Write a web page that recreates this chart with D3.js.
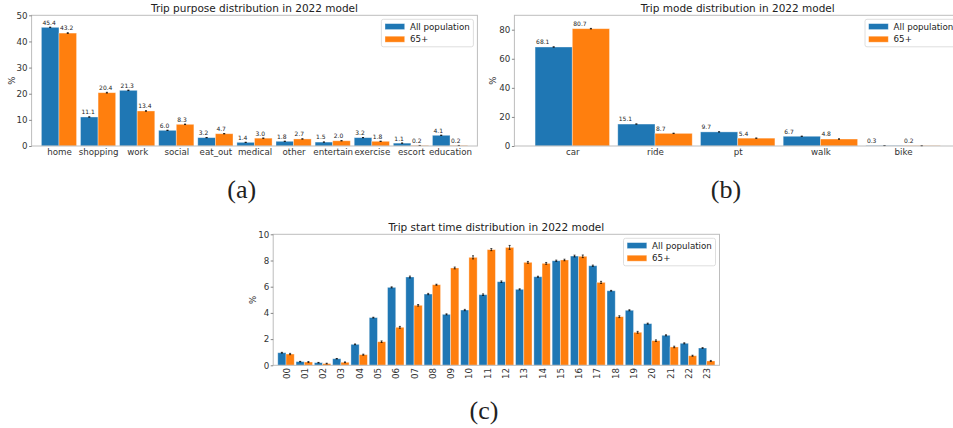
<!DOCTYPE html>
<html>
<head>
<meta charset="utf-8">
<script src="https://cdn.jsdelivr.net/npm/d3@7"></script>
<style>
  html, body { margin: 0; padding: 0; background: #fff; }
  svg { display: block; }
  text { font-family: "DejaVu Sans", sans-serif; }
  text.caption { font-family: "Liberation Serif", "DejaVu Serif", serif; }
</style>
</head>
<body>
<svg id="chart" width="953" height="428"></svg>
<script>
// ---- data ----
const purposeCats = ["home","shopping","work","social","eat_out","medical","other","entertain","exercise","escort","education"];
const purposeAll  = [45.4, 11.1, 21.3, 6.0, 3.2, 1.4, 1.8, 1.5, 3.2, 1.1, 4.1];
const purpose65   = [43.2, 20.4, 13.4, 8.3, 4.7, 3.0, 2.7, 2.0, 1.8, 0.2, 0.2];
const purposeAllErr = [0.10, 0.08, 0.10, 0.06, 0.05, 0.04, 0.05, 0.04, 0.05, 0.04, 0.08];
const purpose65Err  = [0.15, 0.15, 0.12, 0.10, 0.08, 0.06, 0.06, 0.05, 0.05, 0.02, 0.02];

const modeCats = ["car","ride","pt","walk","bike"];
const modeAll  = [68.1, 15.1, 9.7, 6.7, 0.3];
const mode65   = [80.7, 8.7, 5.4, 4.8, 0.2];
const modeAllErr = [0.15, 0.10, 0.08, 0.06, 0.02];
const mode65Err  = [0.20, 0.15, 0.10, 0.10, 0.02];

const hourCats = ["00","01","02","03","04","05","06","07","08","09","10","11","12","13","14","15","16","17","18","19","20","21","22","23"];
const startAll = [0.96, 0.28, 0.20, 0.50, 1.60, 3.64, 5.95, 6.74, 5.44, 3.89, 4.22, 5.39, 6.38, 5.80, 6.76, 7.98, 8.34, 7.60, 5.69, 4.20, 3.18, 2.29, 1.68, 1.32];
const start65  = [0.86, 0.25, 0.13, 0.23, 0.81, 1.80, 2.90, 4.58, 6.15, 7.43, 8.24, 8.83, 9.00, 7.86, 7.78, 8.04, 8.32, 6.33, 3.71, 2.52, 1.88, 1.40, 0.73, 0.33];
const startAllErr = [0.03, 0.02, 0.02, 0.02, 0.03, 0.03, 0.04, 0.07, 0.05, 0.04, 0.05, 0.06, 0.06, 0.04, 0.04, 0.05, 0.07, 0.05, 0.03, 0.04, 0.04, 0.04, 0.04, 0.03];
const start65Err  = [0.05, 0.04, 0.03, 0.03, 0.04, 0.06, 0.07, 0.06, 0.04, 0.07, 0.12, 0.08, 0.15, 0.07, 0.07, 0.06, 0.10, 0.08, 0.07, 0.07, 0.06, 0.06, 0.04, 0.04];

const seriesNames = ["All population", "65+"];
const colors = ["#1f77b4", "#ff7f0e"];

const svg = d3.select("#chart");

function panel(cfg) {
  const g = svg.append("g");
  const n = cfg.cats.length;
  const x = d3.scaleLinear().domain([-0.7, n - 1 + 0.7]).range([cfg.left, cfg.right]);
  const y = d3.scaleLinear().domain([0, cfg.ymax]).range([cfg.bottom, cfg.top]);
  const w = 0.45;

  // bars
  [cfg.a, cfg.b].forEach((vals, s) => {
    const errs = s === 0 ? cfg.aErr : cfg.bErr;
    const bg = g.append("g");
    bg.selectAll("rect").data(vals).join("rect")
      .attr("x", (d, i) => x(i - w + s * w))
      .attr("width", x(w) - x(0))
      .attr("y", d => y(d))
      .attr("height", d => y(0) - y(d))
      .attr("fill", colors[s])
      .attr("stroke", "rgba(255,255,255,0.45)")
      .attr("stroke-width", 0.8);
    // error bars
    const eg = g.append("g").attr("stroke", "#000").attr("stroke-width", 0.7);
    vals.forEach((d, i) => {
      const cx = x(i - w / 2 + s * w);
      const e = errs[i];
      eg.append("line").attr("x1", cx).attr("x2", cx).attr("y1", y(d - e)).attr("y2", y(d + e));
      eg.append("line").attr("x1", cx - 1).attr("x2", cx + 1).attr("y1", y(d - e)).attr("y2", y(d - e));
      eg.append("line").attr("x1", cx - 1).attr("x2", cx + 1).attr("y1", y(d + e)).attr("y2", y(d + e));
    });
    if (cfg.labels) {
      g.append("g").selectAll("text").data(vals).join("text")
        .attr("x", (d, i) => x(i - w + s * w) + 1)
        .attr("y", d => y(d) - 2.6)
        .attr("font-size", "6px")
        .attr("fill", "#222")
        .text(d => d.toFixed(1));
    }
  });

  // spines
  g.append("rect")
    .attr("x", cfg.left).attr("y", cfg.top)
    .attr("width", cfg.right - cfg.left).attr("height", cfg.bottom - cfg.top)
    .attr("fill", "none").attr("stroke", "#bdbdbd").attr("stroke-width", 1);

  // y axis
  const yAxis = d3.axisLeft(y).tickValues(cfg.yticks).tickSize(2.5).tickPadding(1.5).tickFormat(d3.format("d"));
  const ya = g.append("g").attr("transform", `translate(${cfg.left},0)`).call(yAxis);
  ya.select(".domain").remove();
  ya.selectAll(".tick line").attr("stroke", "#555").attr("stroke-width", 0.7);
  ya.selectAll(".tick text").attr("font-size", "8.7px").attr("fill", "#333");

  // x axis
  const xAxis = d3.axisBottom(x).tickValues(d3.range(n)).tickSize(0).tickFormat(i => cfg.cats[i]);
  const xa = g.append("g").attr("transform", `translate(0,${cfg.bottom})`).call(xAxis);
  xa.select(".domain").remove();
  const xt = xa.selectAll(".tick text").attr("font-size", "8.7px").attr("fill", "#333");
  if (cfg.rotate) {
    xt.attr("transform", "translate(0,2.6) rotate(-90)")
      .attr("text-anchor", "end").attr("x", 0).attr("y", 0).attr("dy", "0.35em");
  } else {
    xt.attr("y", 3).attr("dy", "0.71em");
  }

  // y label
  g.append("text")
    .attr("transform", `translate(${cfg.ylabX},${(cfg.top + cfg.bottom) / 2}) rotate(-90)`)
    .attr("text-anchor", "middle").attr("dy", "0.35em")
    .attr("font-size", "8.7px").attr("fill", "#333").text("%");

  // title
  g.append("text")
    .attr("x", (cfg.left + cfg.right) / 2).attr("y", cfg.top - 3)
    .attr("text-anchor", "middle").attr("font-size", "10.5px").attr("fill", "#222")
    .text(cfg.title);

  // legend
  const bx = cfg.right - 4 - 92, by = cfg.top + 4;
  const lg = g.append("g");
  lg.append("rect").attr("x", bx).attr("y", by).attr("width", 92).attr("height", 27.5).attr("rx", 2)
    .attr("fill", "rgba(255,255,255,0.85)").attr("stroke", "#d6d6d6").attr("stroke-width", 0.8);
  seriesNames.forEach((nm, s) => {
    lg.append("rect").attr("x", bx + 3.6).attr("y", by + 4.3 + s * 12.6).attr("width", 19.7).attr("height", 6)
      .attr("fill", colors[s]).attr("stroke", "rgba(255,255,255,0.45)").attr("stroke-width", 0.8);
    lg.append("text").attr("x", bx + 28.6).attr("y", by + 10.3 + s * 12.6)
      .attr("font-size", "8.7px").attr("fill", "#222").text(nm);
  });
}

panel({
  cats: purposeCats, a: purposeAll, b: purpose65, aErr: purposeAllErr, bErr: purpose65Err,
  left: 31.6, right: 477.4, top: 15.3, bottom: 146, ymax: 50, yticks: [0, 10, 20, 30, 40, 50],
  title: "Trip purpose distribution in 2022 model", labels: true, ylabX: 12
});
panel({
  cats: modeCats, a: modeAll, b: mode65, aErr: modeAllErr, bErr: mode65Err,
  left: 514.4, right: 961, top: 15.3, bottom: 146, ymax: 89.9, yticks: [0, 20, 40, 60, 80],
  title: "Trip mode distribution in 2022 model", labels: true, ylabX: 493.3
});
panel({
  cats: hourCats, a: startAll, b: start65, aErr: startAllErr, bErr: start65Err,
  left: 273.2, right: 719.5, top: 234.3, bottom: 365.3, ymax: 10, yticks: [0, 2, 4, 6, 8, 10],
  title: "Trip start time distribution in 2022 model", labels: false, rotate: true, ylabX: 252.5
});

// captions
const caps = [["(a)", 241.7, 198], ["(b)", 726, 198], ["(c)", 484, 419]];
svg.append("g").selectAll("text").data(caps).join("text")
  .attr("class", "caption")
  .attr("x", d => d[1]).attr("y", d => d[2])
  .attr("text-anchor", "middle")
  .attr("font-size", "26px").attr("fill", "#222")
  .text(d => d[0]);
</script>
</body>
</html>
